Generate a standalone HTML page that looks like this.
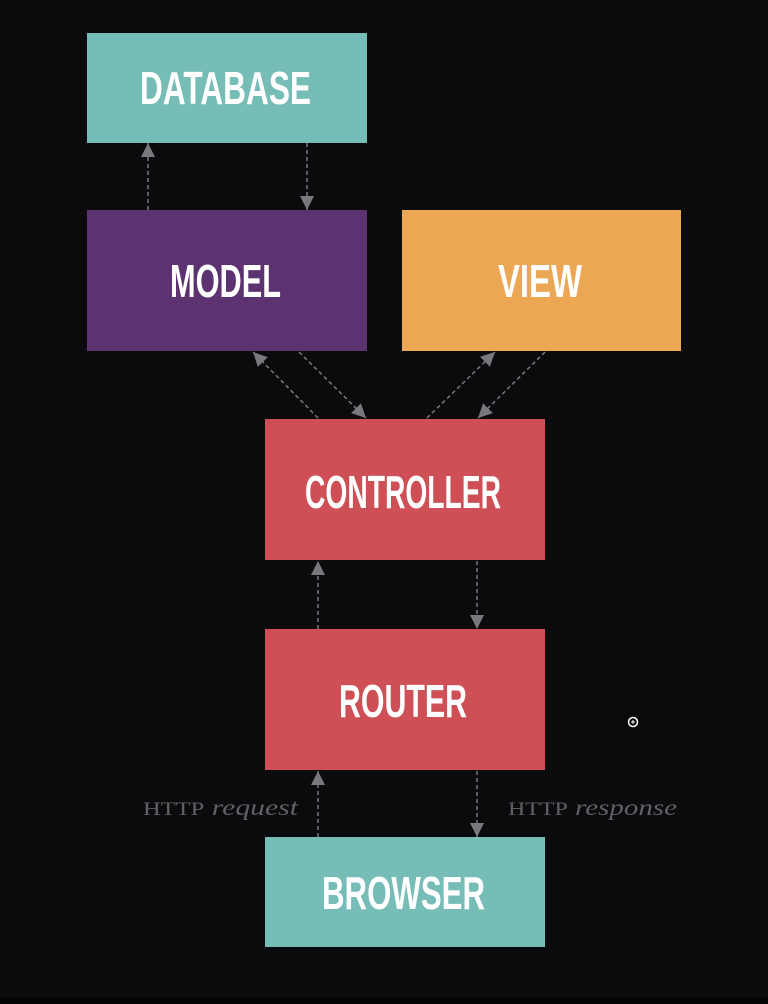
<!DOCTYPE html>
<html><head><meta charset="utf-8"><style>html,body{margin:0;padding:0;background:#0b0a0c;}svg{display:block}</style></head>
<body>
<svg width="768" height="1004" viewBox="0 0 768 1004" xmlns="http://www.w3.org/2000/svg">
<defs>
<marker id="ah" viewBox="0 0 10 10" refX="10" refY="5" markerWidth="16" markerHeight="14" orient="auto" markerUnits="userSpaceOnUse"><path d="M0,0 L10,5 L0,10 z" fill="#7a787d"/></marker>
</defs>
<rect x="0" y="0" width="768" height="1004" fill="#0b0a0c"/>
<rect x="0" y="997" width="768" height="7" fill="#050505"/>
<g fill="#fff" font-family="Liberation Sans, sans-serif" font-weight="bold" font-size="46">
<rect x="87" y="33" width="280" height="110" fill="#76bcb7"/>
<rect x="87" y="210" width="280" height="141" fill="#5c3370"/>
<rect x="402" y="210" width="279" height="141" fill="#eba754"/>
<rect x="265" y="419" width="280" height="141" fill="#cf4f57"/>
<rect x="265" y="629" width="280" height="141" fill="#cf4f57"/>
<rect x="265" y="837" width="280" height="110" fill="#76bcb7"/>
<text x="140" y="104" textLength="171" lengthAdjust="spacingAndGlyphs">DATABASE</text>
<text x="170" y="297" textLength="111" lengthAdjust="spacingAndGlyphs">MODEL</text>
<text x="498" y="297" textLength="84" lengthAdjust="spacingAndGlyphs">VIEW</text>
<text x="305" y="508" textLength="196" lengthAdjust="spacingAndGlyphs">CONTROLLER</text>
<text x="339" y="717" textLength="128" lengthAdjust="spacingAndGlyphs">ROUTER</text>
<text x="322" y="909" textLength="163" lengthAdjust="spacingAndGlyphs">BROWSER</text>
</g>
<g stroke="#7a787d" stroke-width="1.5" stroke-dasharray="4,3" fill="none" marker-end="url(#ah)">
<line x1="148" y1="210" x2="148" y2="143"/>
<line x1="307" y1="143" x2="307" y2="210"/>
<line x1="318" y1="418" x2="253" y2="352"/>
<line x1="299" y1="352" x2="366" y2="418"/>
<line x1="427" y1="418" x2="495" y2="352"/>
<line x1="545" y1="352" x2="478" y2="418"/>
<line x1="318" y1="629" x2="318" y2="561"/>
<line x1="477" y1="561" x2="477" y2="629"/>
<line x1="318" y1="837" x2="318" y2="771"/>
<line x1="477" y1="771" x2="477" y2="837"/>
</g>
<g fill="#626064" font-family="Liberation Serif, serif" font-size="23">
<text x="143" y="815" textLength="155" lengthAdjust="spacingAndGlyphs"><tspan font-size="19">HTTP</tspan> <tspan font-style="italic">request</tspan></text>
<text x="508" y="815" textLength="169" lengthAdjust="spacingAndGlyphs"><tspan font-size="19">HTTP</tspan> <tspan font-style="italic">response</tspan></text>
</g>
<circle cx="633" cy="722" r="4.5" fill="none" stroke="#fff" stroke-width="1.5"/>
<path d="M631 722h4M633 720v4" stroke="#fff" stroke-width="1"/>
</svg>
</body></html>
